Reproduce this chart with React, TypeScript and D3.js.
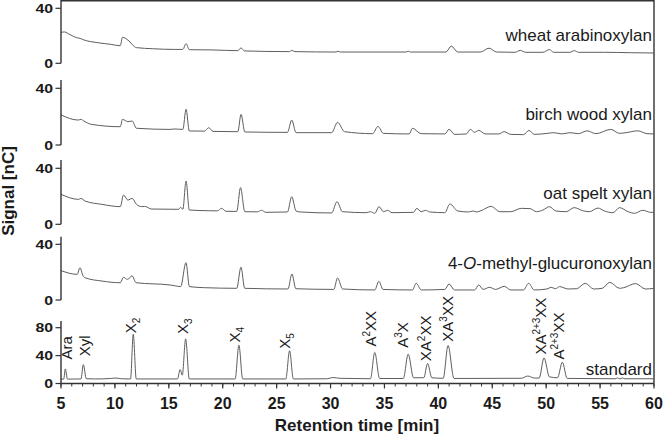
import React from "react";
import * as d3 from "d3";

type Pt = [number, number];

const timeDomain: [number, number] = [5, 60];
const xMajorTicks = [5, 10, 15, 20, 25, 30, 35, 40, 45, 50, 55, 60];
const xMinorTicks = d3.range(5, 61, 1);

const panelNames = [
  "wheat arabinoxylan",
  "birch wood xylan",
  "oat spelt xylan",
  "4-O-methyl-glucuronoxylan",
  "standard",
];

const sampleTicks = [0, 40];
const standardTicks = [0, 40, 80];

const wheat: Pt[] = [
  [5, 22.5], [5.3, 22.8], [5.85, 20.8], [6.45, 18.6], [6.75, 18.2], [7.05, 17.2], [8.4, 15.0], [9.6, 13.8],
  [10.5, 12.8], [10.7, 18.9], [11.2, 16.9], [12.0, 11.4], [13.5, 10.6], [15.5, 10.1], [16.3, 10.1], [16.6, 14.3],
  [16.9, 9.9], [19.1, 9.7], [21.4, 9.2], [21.7, 11.2], [22.0, 9.0], [26.2, 8.5], [26.4, 9.4], [26.7, 8.5],
  [30.5, 8.2], [30.7, 8.8], [30.9, 8.2], [37.0, 8.2], [37.2, 8.8], [37.4, 8.2], [40.7, 8.2], [41.2, 12.5],
  [41.8, 8.2], [43.9, 8.2], [44.7, 11.0], [45.4, 8.2], [47.1, 8.0], [47.6, 9.4], [48.1, 8.0], [49.7, 8.0],
  [50.3, 10.0], [50.7, 8.0], [52.2, 8.0], [52.6, 9.2], [53.0, 8.0], [55.4, 8.0], [57.8, 7.7], [60, 7.5],
];

const birch: Pt[] = [
  [5, 21.2], [6.6, 17.6], [6.85, 18.1], [7.1, 17.0], [7.8, 14.6], [10.5, 12.9], [10.7, 18.1], [11.2, 16.5],
  [11.6, 16.9], [12.0, 11.8], [15.1, 11.0], [15.5, 11.3], [16.3, 11.0], [16.6, 25.2], [16.9, 9.9], [18.3, 9.8],
  [18.7, 12.2], [19.1, 9.6], [21.4, 9.4], [21.7, 21.6], [22.05, 9.2], [26.0, 8.9], [26.4, 17.6], [26.8, 8.7],
  [30.1, 8.7], [30.65, 16.0], [31.3, 9.4], [33.9, 8.0], [34.4, 13.1], [34.9, 8.2], [37.3, 7.8], [37.6, 11.8],
  [38.4, 8.0], [40.6, 7.8], [41.0, 11.1], [41.5, 7.5], [42.6, 7.8], [42.96, 11.0], [43.36, 9.0], [43.75, 10.3],
  [44.35, 7.8], [45.6, 7.8], [46.1, 9.4], [46.7, 7.5], [47.9, 7.3], [48.4, 10.3], [48.9, 7.5], [50.1, 8.2],
  [50.7, 8.7], [51.45, 7.8], [52.2, 8.7], [53.0, 8.0], [53.8, 10.0], [54.6, 8.0], [56.0, 11.0], [56.8, 8.2],
  [57.4, 8.7], [58.5, 10.0], [59.35, 8.0], [60, 7.8],
];

const oat: Pt[] = [
  [5, 21.4], [6.64, 17.8], [6.84, 18.5], [7.24, 16.6], [8.8, 14.25], [10.5, 12.6], [10.8, 20.9], [11.2, 17.3],
  [11.6, 18.5], [12.0, 14.25], [12.5, 12.6], [12.76, 12.8], [13.4, 10.9], [15.9, 10.7], [16.1, 12.1], [16.3, 10.7],
  [16.6, 30.9], [16.9, 10.2], [18.7, 9.7], [19.5, 9.6], [19.9, 11.4], [20.3, 9.3], [21.3, 9.2], [21.65, 26.2],
  [22.05, 9.0], [23.2, 8.9], [23.6, 10.0], [24.0, 8.55], [26.0, 8.8], [26.4, 19.7], [26.8, 9.5], [27.2, 8.8],
  [30.1, 8.1], [30.6, 16.2], [31.1, 9.0], [33.3, 8.3], [33.7, 9.0], [34.1, 7.85], [34.5, 12.6], [34.9, 9.0],
  [35.3, 10.0], [35.7, 8.3], [37.7, 8.55], [38.0, 11.4], [38.4, 9.0], [38.8, 10.0], [39.2, 8.8], [40.6, 8.3],
  [41.07, 14.5], [41.8, 9.5], [42.8, 8.8], [43.2, 9.5], [43.55, 8.8], [43.95, 9.7], [44.9, 12.8], [45.7, 9.0],
  [46.7, 9.0], [47.7, 11.4], [48.5, 11.2], [49.1, 9.0], [49.7, 10.2], [50.3, 12.6], [50.9, 9.5], [51.85, 9.0],
  [52.6, 11.9], [53.4, 9.7], [54.0, 9.0], [54.8, 11.6], [55.4, 9.5], [56.2, 8.3], [56.8, 11.9], [57.6, 9.0],
  [58.2, 7.85], [58.95, 10.0], [59.7, 8.55], [60, 8.55],
];

const glucurono: Pt[] = [
  [5, 21.1], [6.5, 18.4], [6.76, 23.2], [7.05, 17.2], [7.24, 16.0], [8.8, 13.6], [10.5, 12.4], [10.79, 16.3],
  [11.18, 14.8], [11.58, 17.4], [11.97, 12.4], [15.1, 10.8], [15.5, 10.3], [16.1, 9.6], [16.59, 26.8], [16.91, 9.6],
  [18.3, 8.85], [21.3, 8.4], [21.69, 23.5], [22.04, 8.4], [26.05, 7.9], [26.42, 18.7], [26.78, 8.1], [30.3, 7.6],
  [30.65, 15.8], [31.12, 7.9], [34.1, 7.2], [34.48, 13.4], [34.87, 7.6], [37.6, 7.2], [37.94, 12.0], [38.42, 7.2],
  [40.6, 7.6], [40.99, 11.5], [41.5, 7.2], [43.36, 7.2], [43.75, 10.8], [44.15, 7.6], [44.75, 9.1], [45.3, 7.6],
  [46.12, 9.8], [46.71, 7.2], [47.9, 7.2], [48.37, 12.0], [48.89, 7.2], [50.07, 7.9], [50.46, 9.1], [50.86, 8.1],
  [51.25, 9.6], [52.04, 7.9], [52.83, 8.1], [53.62, 12.0], [54.41, 7.9], [55.2, 8.4], [55.9, 12.7], [56.8, 8.4],
  [57.2, 8.85], [58.3, 11.8], [59.2, 7.9], [60, 8.4],
];

const standard: Pt[] = [
  [5, 6.2], [5.25, 6.3], [5.4, 21], [5.6, 6.3], [6.85, 6.5], [7.07, 27], [7.35, 6.8], [8.2, 6.5],
  [9.6, 7.2], [10.1, 7.8], [10.6, 6.8], [11.45, 6.5], [11.7, 70.6], [11.98, 6.5], [15.8, 6.5], [16.05, 20],
  [16.25, 12], [16.56, 64], [16.9, 6.5], [21.15, 6.5], [21.5, 55], [21.85, 6.5], [25.85, 6.5], [26.2, 47],
  [26.55, 6.5], [29.7, 6.8], [30.2, 8.6], [30.9, 7.4], [32, 7.2], [33.7, 6.8], [34.1, 44.6], [34.55, 7.2],
  [36.75, 7.2], [37.2, 42], [37.7, 8.2], [38.65, 8.3], [39.0, 28.7], [39.4, 8.2], [40.45, 7.5], [40.9, 54.5],
  [41.45, 7.2], [47.7, 7.5], [48.3, 10.7], [48.9, 7.8], [49.35, 7.8], [49.8, 36.7], [50.3, 9.5], [51.05, 8.2],
  [51.5, 30.5], [51.95, 7.3], [56.4, 6.8], [56.6, 8], [56.8, 6.8], [57.1, 7.8], [57.3, 6.8], [60, 6.8],
];

type Part = { t: string; k?: "sub" | "sup" };
const peakLabels: { time: number; value: number; parts: Part[] }[] = [
  { time: 6.02, value: 34.3, parts: [{ t: "Ara" }] },
  { time: 7.69, value: 39, parts: [{ t: "Xyl" }] },
  { time: 11.96, value: 72, parts: [{ t: "X" }, { t: "2", k: "sub" }] },
  { time: 16.78, value: 71, parts: [{ t: "X" }, { t: "3", k: "sub" }] },
  { time: 21.6, value: 58.8, parts: [{ t: "X" }, { t: "4", k: "sub" }] },
  { time: 26.24, value: 49.9, parts: [{ t: "X" }, { t: "5", k: "sub" }] },
  { time: 34.2, value: 53, parts: [{ t: "A" }, { t: "2", k: "sup" }, { t: "XX" }] },
  { time: 37.2, value: 51.3, parts: [{ t: "A" }, { t: "3", k: "sup" }, { t: "X" }] },
  { time: 39.3, value: 32, parts: [{ t: "XA" }, { t: "2", k: "sup" }, { t: "XX" }] },
  { time: 41.36, value: 60, parts: [{ t: "XA" }, { t: "3", k: "sup" }, { t: "XX" }] },
  { time: 50.0, value: 41.4, parts: [{ t: "XA" }, { t: "2+3", k: "sup" }, { t: "XX" }] },
  { time: 51.66, value: 34.3, parts: [{ t: "A" }, { t: "2+3", k: "sup" }, { t: "XX" }] },
];

const panelData = [wheat, birch, oat, glucurono, standard];

// layout (pixels)
const layout = [
  { zeroY: 63.3, refVal: 40, refY: 8.3, topY: 0, labelOffset: 22.6 },
  { zeroY: 145, refVal: 40, refY: 88.3, topY: 80, labelOffset: 25 },
  { zeroY: 224.3, refVal: 40, refY: 168.3, topY: 160, labelOffset: 25.3 },
  { zeroY: 300, refVal: 40, refY: 244.3, topY: 236.7, labelOffset: 30.7 },
  { zeroY: 383.5, refVal: 80, refY: 327.7, topY: 321, labelOffset: 8.5 },
];

const AXIS = "#333";
const TRACE = "#5e5e5e";
const TEXT = "#1a1a1a";
const FONT = "'Liberation Sans', Arial, sans-serif";

function PanelName({ name, x, y }: { name: string; x: number; y: number }) {
  if (name.startsWith("4-O-")) {
    return (
      <text x={x} y={y} textAnchor="end" fontSize={17} fontFamily={FONT} fill={TEXT}>
        <tspan>4-</tspan>
        <tspan fontStyle="italic">O</tspan>
        <tspan>{name.slice(3)}</tspan>
      </text>
    );
  }
  return (
    <text x={x} y={y} textAnchor="end" fontSize={17} fontFamily={FONT} fill={TEXT}>
      {name}
    </text>
  );
}

export default function App() {
  const W = 663;
  const H = 435;
  const left = 61;
  const right = 654;
  const x = d3.scaleLinear().domain(timeDomain).range([left, right]);
  const axisY = layout[4].zeroY;

  return (
    <svg
      width={W}
      height={H}
      style={{ position: "absolute", left: 0, top: 0, background: "#fff" }}
      fontFamily={FONT}
    >
      <rect x={0} y={0} width={W} height={H} fill="#fff" />
      {/* frame top + right */}
      <line x1={left} x2={right} y1={0.7} y2={0.7} stroke={AXIS} strokeWidth={1.4} />
      <line x1={right} x2={right} y1={0} y2={axisY} stroke={AXIS} strokeWidth={1.4} />

      {panelData.map((data, i) => {
        const L = layout[i];
        const y = d3.scaleLinear().domain([0, L.refVal]).range([L.zeroY, L.refY]);
        const line = d3
          .line<Pt>()
          .x((d) => x(d[0]))
          .y((d) => y(d[1]))
          .curve(d3.curveMonotoneX);
        const ticks = i === 4 ? standardTicks : sampleTicks;
        return (
          <g key={i}>
            <path d={line(data) || ""} fill="none" stroke={TRACE} strokeWidth={1} />
            <line x1={left} x2={left} y1={L.topY} y2={L.zeroY} stroke={AXIS} strokeWidth={1.4} />
            {ticks.map((t) => (
              <g key={t}>
                <line x1={left - 5.5} x2={left} y1={y(t)} y2={y(t)} stroke={AXIS} strokeWidth={1.2} />
                <text
                  x={53}
                  y={y(t)}
                  dy="0.36em"
                  textAnchor="end"
                  fontSize={13}
                  fontWeight="bold"
                  fill={TEXT}
                  textLength={String(t).length * 8.8}
                  lengthAdjust="spacingAndGlyphs"
                >
                  {t}
                </text>
              </g>
            ))}
            <PanelName name={panelNames[i]} x={652} y={L.zeroY - L.labelOffset} />
          </g>
        );
      })}

      {/* peak labels in standard panel */}
      {(() => {
        const L = layout[4];
        const y = d3.scaleLinear().domain([0, L.refVal]).range([L.zeroY, L.refY]);
        return peakLabels.map((p, j) => (
          <text
            key={j}
            transform={`translate(${x(p.time)},${y(p.value)}) rotate(-90)`}
            dy="0.36em"
            fontSize={15}
            fill={TEXT}
          >
            {p.parts.map((pt, k) => {
              const prev = k > 0 ? p.parts[k - 1].k : undefined;
              let dy = 0;
              if (pt.k === "sub") dy = 4;
              else if (pt.k === "sup") dy = -6;
              if (prev === "sub") dy += -4;
              if (prev === "sup") dy += 6;
              return (
                <tspan key={k} dy={dy} fontSize={pt.k ? 10 : 15}>
                  {pt.t}
                </tspan>
              );
            })}
          </text>
        ));
      })()}

      {/* x axis */}
      <line x1={left} x2={right} y1={axisY} y2={axisY} stroke={AXIS} strokeWidth={1.4} />
      {xMinorTicks.map((t) => (
        <line key={"m" + t} x1={x(t)} x2={x(t)} y1={axisY} y2={axisY + 3} stroke={AXIS} strokeWidth={1} />
      ))}
      {xMajorTicks.map((t) => (
        <g key={"M" + t}>
          <line x1={x(t)} x2={x(t)} y1={axisY} y2={axisY + 5} stroke={AXIS} strokeWidth={1.2} />
          <text x={x(t)} y={408.5} textAnchor="middle" fontSize={16} fontWeight="bold" fill={TEXT}>
            {t}
          </text>
        </g>
      ))}
      <text x={357} y={431} textAnchor="middle" fontSize={17} fontWeight="bold" fill={TEXT}>
        Retention time [min]
      </text>
      <text
        transform="translate(13.5,191) rotate(-90)"
        textAnchor="middle"
        fontSize={17}
        fontWeight="bold"
        fill={TEXT}
      >
        Signal [nC]
      </text>
    </svg>
  );
}
